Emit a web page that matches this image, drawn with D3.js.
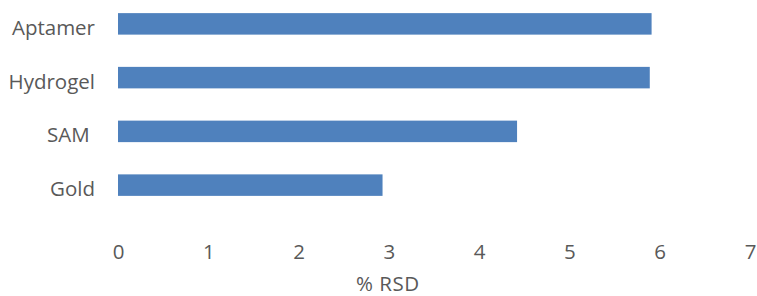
<!DOCTYPE html>
<html>
<head>
<meta charset="utf-8">
<script src="https://cdn.jsdelivr.net/npm/d3@7"></script>
<style>
  body { margin: 0; background: #fff; }
  text { font-family: 'Open Sans', sans-serif; fill: #595959; white-space: pre; }
</style>
</head>
<body>
<svg id="chart" width="757" height="296"></svg>
<script>
var categories = ['Aptamer', 'Hydrogel', 'SAM ', 'Gold']
var rsdValues = [5.91, 5.89, 4.42, 2.93]
var xTicks = [0, 1, 2, 3, 4, 5, 6, 7]

var data = categories.map(function (c, i) { return { name: c, value: rsdValues[i] } })

var svg = d3.select('#chart')
var fontSize = '20.5px'

var x = d3.scaleLinear().domain([0, 7]).range([118, 750])
var y = d3.scaleBand().domain(categories).range([-3, 212]).paddingInner(0.6).paddingOuter(0.3)

svg.selectAll('.bar')
  .data(data)
  .enter().append('rect')
  .attr('class', 'bar')
  .attr('x', x(0))
  .attr('y', function (d) { return y(d.name) })
  .attr('width', function (d) { return x(d.value) - x(0) })
  .attr('height', y.bandwidth())
  .attr('fill', '#4f81bd')

// category labels
var yAxis = svg.append('g')
  .attr('transform', 'translate(' + x(0) + ',0)')
  .call(d3.axisLeft(y).tickSize(0).tickPadding(23))
yAxis.select('.domain').remove()
yAxis.selectAll('text')
  .attr('dy', '0.54em')
  .style('font-size', fontSize)
  .style('font-family', "'Open Sans', sans-serif")
  .attr('fill', '#595959')

// value axis
var xAxis = svg.append('g')
  .attr('transform', 'translate(0,259)')
  .call(d3.axisBottom(x).tickValues(xTicks).tickSize(0).tickPadding(0).tickFormat(d3.format('d')))
xAxis.select('.domain').remove()
xAxis.selectAll('text')
  .attr('y', 0)
  .attr('dy', null)
  .style('font-size', fontSize)
  .style('font-family', "'Open Sans', sans-serif")
  .attr('fill', '#595959')

svg.append('text')
  .attr('x', x(3) - 1)
  .attr('y', 291)
  .attr('text-anchor', 'middle')
  .style('font-size', fontSize)
  .style('letter-spacing', '0.5px')
  .text('% RSD')
</script>
</body>
</html>
